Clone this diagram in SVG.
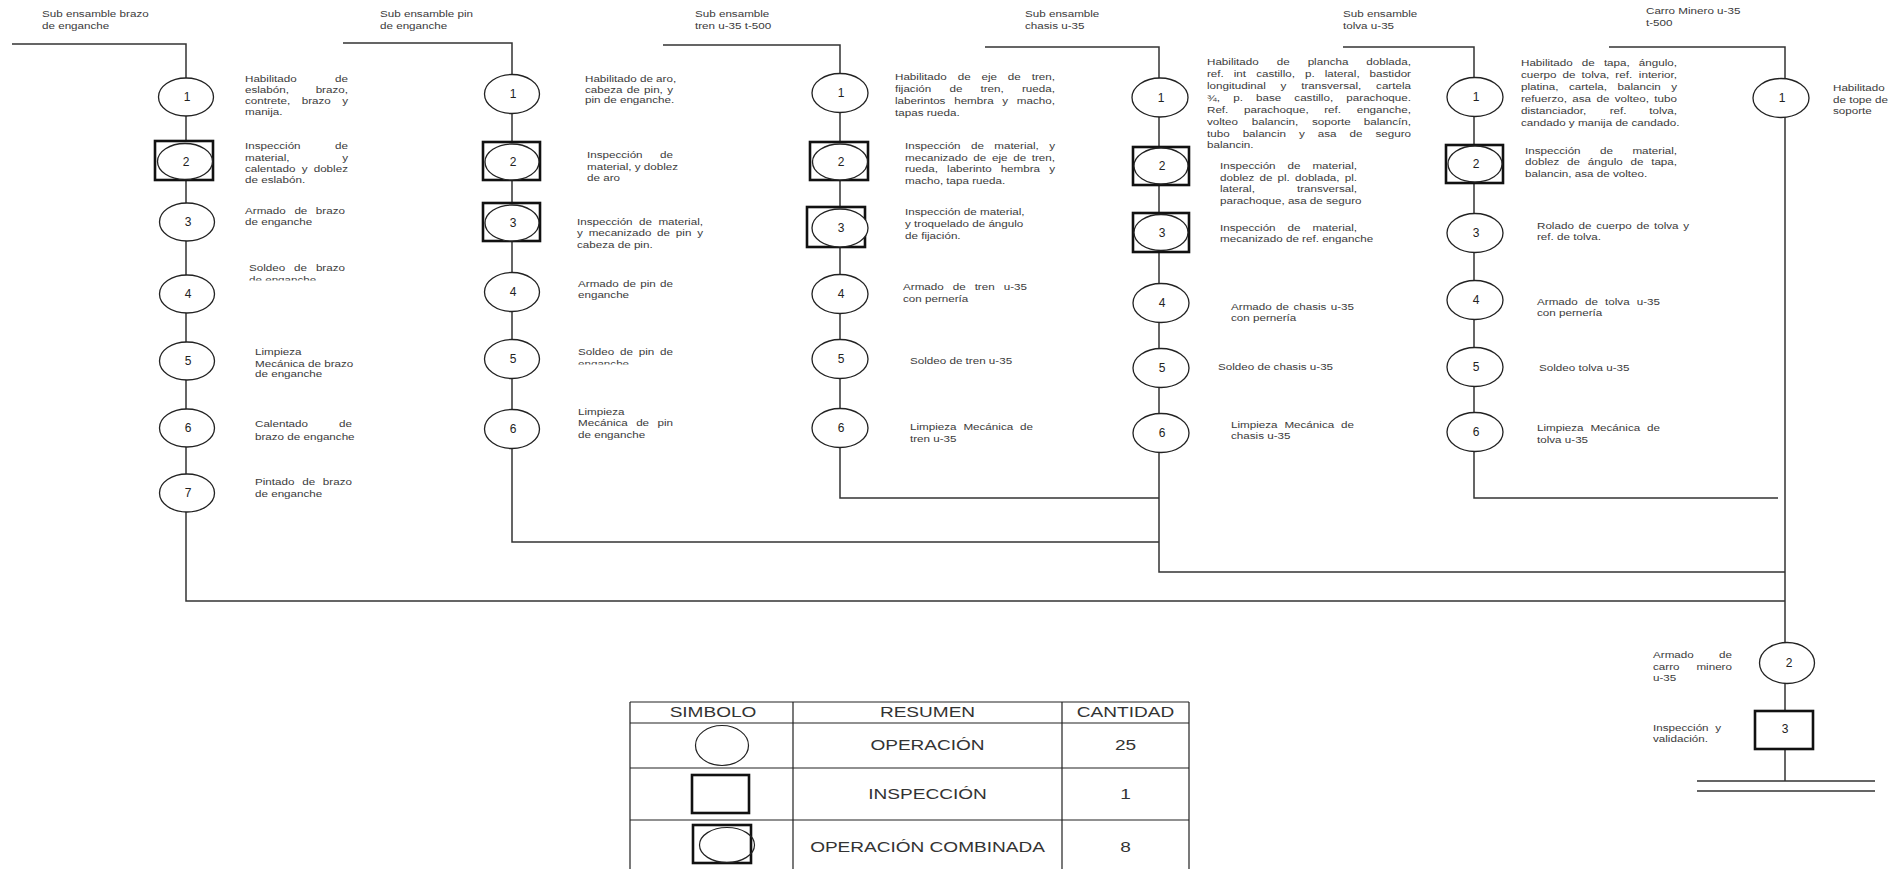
<svg xmlns="http://www.w3.org/2000/svg" width="1901" height="869" viewBox="0 0 1901 869">
<style>
.t{font-family:"Liberation Sans",Arial,sans-serif;font-size:9.7px;fill:#3a3a3a}
.n{font-family:"Liberation Sans",Arial,sans-serif;font-size:12px;fill:#222;text-anchor:middle}
.h{font-family:"Liberation Sans",Arial,sans-serif;font-size:14px;fill:#333;text-anchor:middle}
.e{text-anchor:end}
.m{text-anchor:middle}
.op{fill:#fff;stroke:#222;stroke-width:1.3}
.bx{fill:#fff;stroke:#111;stroke-width:2.6}
.ln{fill:none;stroke:#333;stroke-width:1.5}
.tb{fill:none;stroke:#222;stroke-width:1.2}
</style>
<defs>
<clipPath id="clipA"><rect x="-5" y="255" width="100" height="25.5"/></clipPath>
<clipPath id="clipB"><rect x="-5" y="340" width="100" height="24.5"/></clipPath>
</defs>
<rect width="1901" height="869" fill="#fff"/>

<g id="headers">
<g transform="matrix(1.2 0 0 1 42 0)"><text class="t" x="0" y="17.5">Sub ensamble brazo</text><text class="t" x="0" y="29.5">de enganche</text></g>
<g transform="matrix(1.2 0 0 1 380 0)"><text class="t" x="0" y="17.5">Sub ensamble pin</text><text class="t" x="0" y="29.5">de enganche</text></g>
<g transform="matrix(1.2 0 0 1 695 0)"><text class="t" x="0" y="17.5">Sub ensamble</text><text class="t" x="0" y="29.5">tren u-35 t-500</text></g>
<g transform="matrix(1.2 0 0 1 1025 0)"><text class="t" x="0" y="17.5">Sub ensamble</text><text class="t" x="0" y="29.5">chasis u-35</text></g>
<g transform="matrix(1.2 0 0 1 1343 0)"><text class="t" x="0" y="17.5">Sub ensamble</text><text class="t" x="0" y="29.5">tolva u-35</text></g>
<g transform="matrix(1.2 0 0 1 1646 0)"><text class="t" x="0" y="14.5">Carro Minero u-35</text><text class="t" x="0" y="26.5">t-500</text></g>
</g>

<g id="connectors">
<path class="ln" d="M12 44 H186 V601 H1785"/>
<path class="ln" d="M343 43 H512 V542 H1159"/>
<path class="ln" d="M663 45 H840 V498 H1159"/>
<path class="ln" d="M985 47 H1159 V572 H1785"/>
<path class="ln" d="M1343 47 H1474 V498 H1778"/>
<path class="ln" d="M1609 47 H1785 V781"/>
<path class="ln" d="M1697 781 H1875 M1697 791 H1875"/>
</g>

<!-- Column 1 -->
<g id="brazo-1"><ellipse class="op" cx="186" cy="97" rx="27.5" ry="19"/><text class="n" x="187" y="101.3">1</text>
<g transform="matrix(1.2 0 0 1 245 0)">
<text class="t" y="82.5"><tspan x="0">Habilitado </tspan><tspan class="e" x="85.8">de</tspan></text>
<text class="t" y="93.5"><tspan x="0">eslabón, </tspan><tspan class="e" x="85.8">brazo,</tspan></text>
<text class="t" y="104.5"><tspan x="0">contrete, </tspan><tspan class="m" x="60.7">brazo </tspan><tspan class="e" x="85.8">y</tspan></text>
<text class="t" x="0" y="115.5">manija.</text></g></g>
<g id="brazo-2"><rect class="bx" x="155" y="141" width="58" height="39"/><ellipse class="op" cx="185" cy="161.5" rx="27.5" ry="18"/><text class="n" x="186" y="166">2</text>
<g transform="matrix(1.2 0 0 1 245 0)">
<text class="t" y="149.5"><tspan x="0">Inspección </tspan><tspan class="e" x="85.8">de</tspan></text>
<text class="t" y="160.8"><tspan x="0">material, </tspan><tspan class="e" x="85.8">y</tspan></text>
<text class="t" y="172.1"><tspan x="0">calentado </tspan><tspan class="m" x="51">y </tspan><tspan class="e" x="85.8">doblez</tspan></text>
<text class="t" x="0" y="183.5">de eslabón.</text></g></g>
<g id="brazo-3"><ellipse class="op" cx="187" cy="222" rx="27.5" ry="19"/><text class="n" x="188" y="226.3">3</text>
<g transform="matrix(1.2 0 0 1 245 0)">
<text class="t" y="214.5"><tspan x="0">Armado </tspan><tspan class="m" x="47.9">de </tspan><tspan class="e" x="83.3">brazo</tspan></text>
<text class="t" x="0" y="225.5">de enganche</text></g></g>
<g id="brazo-4"><ellipse class="op" cx="187" cy="294" rx="27.5" ry="19"/><text class="n" x="188" y="298.3">4</text>
<g transform="matrix(1.2 0 0 1 249 0)">
<text class="t" y="271.5"><tspan x="0">Soldeo </tspan><tspan class="m" x="44.3">de </tspan><tspan class="e" x="80">brazo</tspan></text>
<text class="t" x="0" y="283" clip-path="url(#clipA)">de enganche</text></g></g>
<g id="brazo-5"><ellipse class="op" cx="187" cy="361" rx="27.5" ry="19"/><text class="n" x="188" y="365.3">5</text>
<g transform="matrix(1.2 0 0 1 255 0)">
<text class="t" x="0" y="355.5">Limpieza</text>
<text class="t" x="0" y="366.5">Mecánica de brazo</text>
<text class="t" x="0" y="377.5">de enganche</text></g></g>
<g id="brazo-6"><ellipse class="op" cx="187" cy="428" rx="27.5" ry="19"/><text class="n" x="188" y="432.3">6</text>
<g transform="matrix(1.2 0 0 1 255 0)">
<text class="t" y="427.5"><tspan x="0">Calentado </tspan><tspan class="e" x="80.8">de</tspan></text>
<text class="t" x="0" y="440">brazo de enganche</text></g></g>
<g id="brazo-7"><ellipse class="op" cx="187" cy="493" rx="27.5" ry="19"/><text class="n" x="188" y="497.3">7</text>
<g transform="matrix(1.2 0 0 1 255 0)">
<text class="t" y="485.5"><tspan x="0">Pintado </tspan><tspan class="m" x="46.1">de </tspan><tspan class="e" x="80.8">brazo</tspan></text>
<text class="t" x="0" y="497">de enganche</text></g></g>

<!-- Column 2 -->
<g id="pin-1"><ellipse class="op" cx="512" cy="94" rx="27.5" ry="19.5"/><text class="n" x="513" y="98.3">1</text>
<g transform="matrix(1.2 0 0 1 585 0)">
<text class="t" x="0" y="82.5">Habilitado de aro,</text>
<text class="t" y="93"><tspan x="0">cabeza </tspan><tspan class="m" x="41.6">de </tspan><tspan class="m" x="58.4">pin, </tspan><tspan class="e" x="73.3">y</tspan></text>
<text class="t" x="0" y="103.5">pin de enganche.</text></g></g>
<g id="pin-2"><rect class="bx" x="483" y="142" width="57" height="38"/><ellipse class="op" cx="512" cy="162" rx="27" ry="18"/><text class="n" x="513" y="166.3">2</text>
<g transform="matrix(1.2 0 0 1 587 0)">
<text class="t" y="158.5"><tspan x="0">Inspección </tspan><tspan class="e" x="71.7">de</tspan></text>
<text class="t" x="0" y="170.5">material, y doblez</text>
<text class="t" x="0" y="181.5">de aro</text></g></g>
<g id="pin-3"><rect class="bx" x="483" y="203" width="57" height="38"/><ellipse class="op" cx="512" cy="223" rx="27" ry="18"/><text class="n" x="513" y="227.3">3</text>
<g transform="matrix(1.2 0 0 1 577 0)">
<text class="t" y="225.5"><tspan x="0">Inspección </tspan><tspan class="m" x="58.5">de </tspan><tspan class="e" x="105">material,</tspan></text>
<text class="t" y="236.5"><tspan x="0">y </tspan><tspan class="m" x="37.2">mecanizado </tspan><tspan class="m" x="73.5">de </tspan><tspan class="m" x="90.2">pin </tspan><tspan class="e" x="105">y</tspan></text>
<text class="t" x="0" y="248.5">cabeza de pin.</text></g></g>
<g id="pin-4"><ellipse class="op" cx="512" cy="292" rx="27.5" ry="19.5"/><text class="n" x="513" y="296.3">4</text>
<g transform="matrix(1.2 0 0 1 578 0)">
<text class="t" y="287.5"><tspan x="0">Armado </tspan><tspan class="m" x="44.3">de </tspan><tspan class="m" x="59.7">pin </tspan><tspan class="e" x="79.2">de</tspan></text>
<text class="t" x="0" y="298.5">enganche</text></g></g>
<g id="pin-5"><ellipse class="op" cx="512" cy="359" rx="27.5" ry="19.5"/><text class="n" x="513" y="363.3">5</text>
<g transform="matrix(1.2 0 0 1 578 0)">
<text class="t" y="355.5"><tspan x="0">Soldeo </tspan><tspan class="m" x="41.8">de </tspan><tspan class="m" x="58.5">pin </tspan><tspan class="e" x="79.2">de</tspan></text>
<text class="t" x="0" y="367" clip-path="url(#clipB)">enganche</text></g></g>
<g id="pin-6"><ellipse class="op" cx="512" cy="429" rx="27.5" ry="19.5"/><text class="n" x="513" y="433.3">6</text>
<g transform="matrix(1.2 0 0 1 578 0)">
<text class="t" x="0" y="415.5">Limpieza</text>
<text class="t" y="426.5"><tspan x="0">Mecánica </tspan><tspan class="m" x="55.2">de </tspan><tspan class="e" x="79.2">pin</tspan></text>
<text class="t" x="0" y="438.5">de enganche</text></g></g>

<!-- Column 3 -->
<g id="tren-1"><ellipse class="op" cx="840" cy="93" rx="28" ry="19.5"/><text class="n" x="841" y="97.3">1</text>
<g transform="matrix(1.2 0 0 1 895 0)">
<text class="t" y="80.5"><tspan x="0">Habilitado </tspan><tspan class="m" x="59">de </tspan><tspan class="m" x="79.9">eje </tspan><tspan class="m" x="100.8">de </tspan><tspan class="e" x="133.3">tren,</tspan></text>
<text class="t" y="92.5"><tspan x="0">fijación </tspan><tspan class="m" x="52.1">de </tspan><tspan class="m" x="82.3">tren, </tspan><tspan class="e" x="133.3">rueda,</tspan></text>
<text class="t" y="104.5"><tspan x="0">laberintos </tspan><tspan class="m" x="67.1">hembra </tspan><tspan class="m" x="93.2">y </tspan><tspan class="e" x="133.3">macho,</tspan></text>
<text class="t" x="0" y="116.5">tapas rueda.</text></g></g>
<g id="tren-2"><rect class="bx" x="810" y="142" width="58" height="38"/><ellipse class="op" cx="840" cy="162" rx="27.5" ry="18"/><text class="n" x="841" y="166.3">2</text>
<g transform="matrix(1.2 0 0 1 905 0)">
<text class="t" y="149.5"><tspan x="0">Inspección </tspan><tspan class="m" x="61.7">de </tspan><tspan class="m" x="94.3">material, </tspan><tspan class="e" x="125">y</tspan></text>
<text class="t" y="161"><tspan x="0">mecanizado </tspan><tspan class="m" x="63.7">de </tspan><tspan class="m" x="80.3">eje </tspan><tspan class="m" x="96.9">de </tspan><tspan class="e" x="125">tren,</tspan></text>
<text class="t" y="172.5"><tspan x="0">rueda, </tspan><tspan class="m" x="55">laberinto </tspan><tspan class="m" x="97.5">hembra </tspan><tspan class="e" x="125">y</tspan></text>
<text class="t" x="0" y="184.5">macho, tapa rueda.</text></g></g>
<g id="tren-3"><rect class="bx" x="807" y="207" width="58" height="40"/><ellipse class="op" cx="840" cy="228" rx="28" ry="19"/><text class="n" x="841" y="232.3">3</text>
<g transform="matrix(1.2 0 0 1 905 0)">
<text class="t" x="0" y="215.5">Inspección de material,</text>
<text class="t" x="0" y="227.5">y troquelado de ángulo</text>
<text class="t" x="0" y="239.5">de fijación.</text></g></g>
<g id="tren-4"><ellipse class="op" cx="840" cy="294" rx="28" ry="19.5"/><text class="n" x="841" y="298.3">4</text>
<g transform="matrix(1.2 0 0 1 903 0)">
<text class="t" y="290.5"><tspan x="0">Armado </tspan><tspan class="m" x="48.2">de </tspan><tspan class="m" x="69.4">tren </tspan><tspan class="e" x="103.3">u-35</tspan></text>
<text class="t" x="0" y="302.5">con pernería</text></g></g>
<g id="tren-5"><ellipse class="op" cx="840" cy="359" rx="28" ry="19.5"/><text class="n" x="841" y="363.3">5</text>
<g transform="matrix(1.2 0 0 1 910 0)"><text class="t" x="0" y="364.5">Soldeo de tren u-35</text></g></g>
<g id="tren-6"><ellipse class="op" cx="840" cy="428" rx="28" ry="19.5"/><text class="n" x="841" y="432.3">6</text>
<g transform="matrix(1.2 0 0 1 910 0)">
<text class="t" y="430.5"><tspan x="0">Limpieza </tspan><tspan class="m" x="66.6">Mecánica </tspan><tspan class="e" x="102.5">de</tspan></text>
<text class="t" x="0" y="442.5">tren u-35</text></g></g>

<!-- Column 4 -->
<g id="chasis-1"><ellipse class="op" cx="1160" cy="97.5" rx="28" ry="19.5"/><text class="n" x="1161" y="101.8">1</text>
<g transform="matrix(1.2 0 0 1 1207 0)">
<text class="t" y="65.5"><tspan x="0">Habilitado </tspan><tspan class="m" x="64.9">de </tspan><tspan class="m" x="102.2">plancha </tspan><tspan class="e" x="170">doblada,</tspan></text>
<text class="t" y="77.5"><tspan x="0">ref. </tspan><tspan class="m" x="28.8">int </tspan><tspan class="m" x="58.5">castillo, </tspan><tspan class="m" x="87">p. </tspan><tspan class="m" x="114">lateral, </tspan><tspan class="e" x="170">bastidor</tspan></text>
<text class="t" y="89.5"><tspan x="0">longitudinal </tspan><tspan class="m" x="65.1">y </tspan><tspan class="m" x="104.9">transversal, </tspan><tspan class="e" x="170">cartela</tspan></text>
<text class="t" y="101.5"><tspan x="0">¾, </tspan><tspan class="m" x="27.2">p. </tspan><tspan class="m" x="52.7">base </tspan><tspan class="m" x="90.3">castillo, </tspan><tspan class="e" x="170">parachoque.</tspan></text>
<text class="t" y="113.5"><tspan x="0">Ref. </tspan><tspan class="m" x="59.1">parachoque, </tspan><tspan class="m" x="106">ref. </tspan><tspan class="e" x="170">enganche,</tspan></text>
<text class="t" y="125.5"><tspan x="0">volteo </tspan><tspan class="m" x="58">balancin, </tspan><tspan class="m" x="105">soporte </tspan><tspan class="e" x="170">balancín,</tspan></text>
<text class="t" y="137"><tspan x="0">tubo </tspan><tspan class="m" x="49.1">balancin </tspan><tspan class="m" x="80.4">y </tspan><tspan class="m" x="101.5">asa </tspan><tspan class="m" x="125.5">de </tspan><tspan class="e" x="170">seguro</tspan></text>
<text class="t" x="0" y="148.5">balancin.</text></g></g>
<g id="chasis-2"><rect class="bx" x="1133" y="147" width="56" height="38"/><ellipse class="op" cx="1161" cy="166" rx="27" ry="18"/><text class="n" x="1162" y="170.3">2</text>
<g transform="matrix(1.2 0 0 1 1220 0)">
<text class="t" y="169.5"><tspan x="0">Inspección </tspan><tspan class="m" x="63">de </tspan><tspan class="e" x="114.2">material,</tspan></text>
<text class="t" y="181"><tspan x="0">doblez </tspan><tspan class="m" x="39.6">de </tspan><tspan class="m" x="54.4">pl. </tspan><tspan class="m" x="82.4">doblada, </tspan><tspan class="e" x="114.2">pl.</tspan></text>
<text class="t" y="192.5"><tspan x="0">lateral, </tspan><tspan class="e" x="114.2">transversal,</tspan></text>
<text class="t" x="0" y="204.5">parachoque, asa de seguro</text></g></g>
<g id="chasis-3"><rect class="bx" x="1133" y="213" width="56" height="39"/><ellipse class="op" cx="1161" cy="232.5" rx="27" ry="18"/><text class="n" x="1162" y="236.8">3</text>
<g transform="matrix(1.2 0 0 1 1220 0)">
<text class="t" y="231.5"><tspan x="0">Inspección </tspan><tspan class="m" x="63">de </tspan><tspan class="e" x="114.2">material,</tspan></text>
<text class="t" x="0" y="242.5">mecanizado de ref. enganche</text></g></g>
<g id="chasis-4"><ellipse class="op" cx="1161" cy="303" rx="28" ry="19.5"/><text class="n" x="1162" y="307.3">4</text>
<g transform="matrix(1.2 0 0 1 1231 0)">
<text class="t" y="310.5"><tspan x="0">Armado </tspan><tspan class="m" x="44.3">de </tspan><tspan class="m" x="67.1">chasis </tspan><tspan class="e" x="102.5">u-35</tspan></text>
<text class="t" x="0" y="321.5">con pernería</text></g></g>
<g id="chasis-5"><ellipse class="op" cx="1161" cy="368" rx="28" ry="19.5"/><text class="n" x="1162" y="372.3">5</text>
<g transform="matrix(1.2 0 0 1 1218 0)"><text class="t" x="0" y="370.5">Soldeo de chasis u-35</text></g></g>
<g id="chasis-6"><ellipse class="op" cx="1161" cy="433" rx="28" ry="19.5"/><text class="n" x="1162" y="437.3">6</text>
<g transform="matrix(1.2 0 0 1 1231 0)">
<text class="t" y="428.5"><tspan x="0">Limpieza </tspan><tspan class="m" x="66.6">Mecánica </tspan><tspan class="e" x="102.5">de</tspan></text>
<text class="t" x="0" y="439.5">chasis u-35</text></g></g>

<!-- Column 5 -->
<g id="tolva-1"><ellipse class="op" cx="1475" cy="97" rx="28" ry="19.5"/><text class="n" x="1476" y="101.3">1</text>
<g transform="matrix(1.2 0 0 1 1521 0)">
<text class="t" y="66.5"><tspan x="0">Habilitado </tspan><tspan class="m" x="57.4">de </tspan><tspan class="m" x="81.2">tapa, </tspan><tspan class="e" x="130">ángulo,</tspan></text>
<text class="t" y="78.5"><tspan x="0">cuerpo </tspan><tspan class="m" x="41.4">de </tspan><tspan class="m" x="63.4">tolva, </tspan><tspan class="m" x="87">ref. </tspan><tspan class="e" x="130">interior,</tspan></text>
<text class="t" y="90.5"><tspan x="0">platina, </tspan><tspan class="m" x="57.2">cartela, </tspan><tspan class="m" x="99.8">balancin </tspan><tspan class="e" x="130">y</tspan></text>
<text class="t" y="102.5"><tspan x="0">refuerzo, </tspan><tspan class="m" x="51.9">asa </tspan><tspan class="m" x="69.6">de </tspan><tspan class="m" x="93.7">volteo, </tspan><tspan class="e" x="130">tubo</tspan></text>
<text class="t" y="114.5"><tspan x="0">distanciador, </tspan><tspan class="m" x="82.3">ref. </tspan><tspan class="e" x="130">tolva,</tspan></text>
<text class="t" x="0" y="126.5">candado y manija de candado.</text></g></g>
<g id="tolva-2"><rect class="bx" x="1446" y="145" width="57" height="38"/><ellipse class="op" cx="1475" cy="164" rx="27" ry="18"/><text class="n" x="1476" y="168.3">2</text>
<g transform="matrix(1.2 0 0 1 1525 0)">
<text class="t" y="154.5"><tspan x="0">Inspección </tspan><tspan class="m" x="69.3">de </tspan><tspan class="e" x="126.7">material,</tspan></text>
<text class="t" y="165.5"><tspan x="0">doblez </tspan><tspan class="m" x="41.8">de </tspan><tspan class="m" x="68.2">ángulo </tspan><tspan class="m" x="94.6">de </tspan><tspan class="e" x="126.7">tapa,</tspan></text>
<text class="t" x="0" y="177.5">balancin, asa de volteo.</text></g></g>
<g id="tolva-3"><ellipse class="op" cx="1475" cy="233" rx="28" ry="19.5"/><text class="n" x="1476" y="237.3">3</text>
<g transform="matrix(1.2 0 0 1 1537 0)">
<text class="t" y="229.5"><tspan x="0">Rolado </tspan><tspan class="m" x="41.4">de </tspan><tspan class="m" x="65.5">cuerpo </tspan><tspan class="m" x="89.6">de </tspan><tspan class="m" x="109.1">tolva </tspan><tspan class="e" x="126.7">y</tspan></text>
<text class="t" x="0" y="240.5">ref. de tolva.</text></g></g>
<g id="tolva-4"><ellipse class="op" cx="1475" cy="300" rx="28" ry="19.5"/><text class="n" x="1476" y="304.3">4</text>
<g transform="matrix(1.2 0 0 1 1537 0)">
<text class="t" y="305.5"><tspan x="0">Armado </tspan><tspan class="m" x="46.7">de </tspan><tspan class="m" x="68.3">tolva </tspan><tspan class="e" x="102.5">u-35</tspan></text>
<text class="t" x="0" y="316.5">con pernería</text></g></g>
<g id="tolva-5"><ellipse class="op" cx="1475" cy="367" rx="28" ry="19.5"/><text class="n" x="1476" y="371.3">5</text>
<g transform="matrix(1.2 0 0 1 1539 0)"><text class="t" x="0" y="371.5">Soldeo tolva u-35</text></g></g>
<g id="tolva-6"><ellipse class="op" cx="1475" cy="432" rx="28" ry="19.5"/><text class="n" x="1476" y="436.3">6</text>
<g transform="matrix(1.2 0 0 1 1537 0)">
<text class="t" y="431.5"><tspan x="0">Limpieza </tspan><tspan class="m" x="66.6">Mecánica </tspan><tspan class="e" x="102.5">de</tspan></text>
<text class="t" x="0" y="443.5">tolva u-35</text></g></g>

<!-- Column 6 -->
<g id="carro-1"><ellipse class="op" cx="1781" cy="98" rx="28" ry="19.5"/><text class="n" x="1782" y="102.3">1</text>
<g transform="matrix(1.2 0 0 1 1833 0)">
<text class="t" x="0" y="91.5">Habilitado</text>
<text class="t" x="0" y="103.5">de tope de</text>
<text class="t" x="0" y="114.5">soporte</text></g></g>
<g id="carro-2"><ellipse class="op" cx="1787" cy="663" rx="27.5" ry="20.5"/><text class="n" x="1789" y="667.3">2</text>
<g transform="matrix(1.2 0 0 1 1653 0)">
<text class="t" y="658.5"><tspan x="0">Armado </tspan><tspan class="e" x="65.8">de</tspan></text>
<text class="t" y="670.5"><tspan x="0">carro </tspan><tspan class="e" x="65.8">minero</tspan></text>
<text class="t" x="0" y="681.5">u-35</text></g></g>
<g id="carro-3"><rect class="bx" x="1755" y="711" width="58" height="38"/><text class="n" x="1785" y="733.3">3</text>
<g transform="matrix(1.2 0 0 1 1653 0)">
<text class="t" y="731.5"><tspan x="0">Inspección </tspan><tspan class="e" x="56.7">y</tspan></text>
<text class="t" x="0" y="742.5">validación.</text></g></g>

<!-- Summary table -->
<g id="tabla-resumen">
<path class="tb" d="M630 702 H1189 M630 723 H1189 M630 768 H1189 M630 820 H1189 M630 702 V869 M793 702 V869 M1062 702 V869 M1189 702 V869"/>
<text class="h" transform="matrix(1.36 0 0 1 713 0)" x="0" y="717.5">SIMBOLO</text>
<text class="h" transform="matrix(1.36 0 0 1 927.5 0)" x="0" y="717.5">RESUMEN</text>
<text class="h" transform="matrix(1.36 0 0 1 1125.5 0)" x="0" y="717.5">CANTIDAD</text>
<ellipse cx="722" cy="745.5" rx="26.5" ry="20" fill="none" stroke="#222" stroke-width="1.2"/>
<text class="h" transform="matrix(1.36 0 0 1 927.5 0)" x="0" y="750.5">OPERACIÓN</text>
<text class="h" transform="matrix(1.36 0 0 1 1125.5 0)" x="0" y="750.5">25</text>
<rect x="692" y="775" width="57" height="38" fill="none" stroke="#111" stroke-width="2.6"/>
<text class="h" transform="matrix(1.36 0 0 1 927.5 0)" x="0" y="799">INSPECCIÓN</text>
<text class="h" transform="matrix(1.36 0 0 1 1125.5 0)" x="0" y="799">1</text>
<rect x="693" y="825" width="58" height="38" fill="none" stroke="#111" stroke-width="2.6"/>
<ellipse cx="727" cy="845" rx="27.5" ry="17.5" fill="none" stroke="#222" stroke-width="1.2"/>
<text class="h" transform="matrix(1.36 0 0 1 927.5 0)" x="0" y="852">OPERACIÓN COMBINADA</text>
<text class="h" transform="matrix(1.36 0 0 1 1125.5 0)" x="0" y="852">8</text>
</g>
</svg>
